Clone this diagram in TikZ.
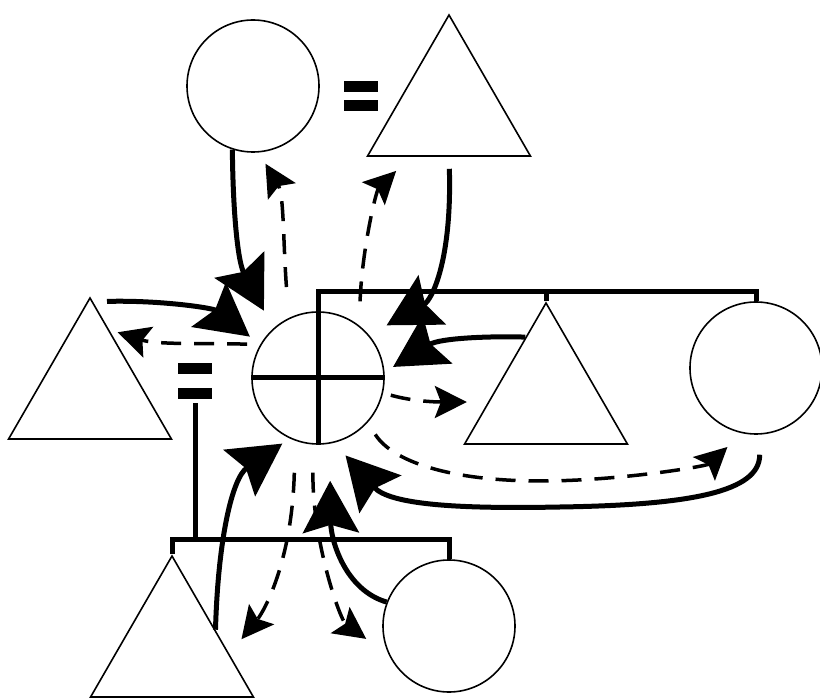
\documentclass[tikz,border=0pt]{standalone}
\usetikzlibrary{arrows.meta,shapes.geometric}
\tikzset{
  circ/.style={circle,draw,line width=1.6pt,minimum size=132pt,inner sep=0pt},
  tri/.style={regular polygon,regular polygon sides=3,draw,line width=1.6pt,
              minimum size=188pt,inner sep=0pt},
  eqsign/.style={rectangle,fill=white,minimum width=34pt,minimum height=#1,inner sep=0pt,
    path picture={
      \fill[black] (path picture bounding box.north west) rectangle ([yshift=-11pt]path picture bounding box.north east);
      \fill[black] ([yshift=11pt]path picture bounding box.south west) rectangle (path picture bounding box.south east);}},
  eqsign/.default=32pt,
  bus/.style={line width=5pt},
  arr/.style={-{Stealth[length=52pt,width=56pt,inset=8pt]},line width=5pt},
  darr/.style={-{Stealth[length=32pt,width=32pt,inset=6pt]},line width=3.5pt,
               dash pattern=on 20pt off 13pt},
}
\begin{document}
\begin{tikzpicture}[x=1pt,y=-1pt]
  \useasboundingbox[fill=white] (0,0) rectangle (820,700);

  % people
  \node[circ] (tc)  at (253,86)  {};
  \node[tri]  (tt)  at (449,109) {};
  \node[tri]  (lt)  at (90,392)  {};
  \node[circ] (ego) at (318,378) {};
  \node[tri]  (rt)  at (546,397) {};
  \node[circ] (rc)  at (756,368) {};
  \node[tri]  (bl)  at (172,650) {};
  \node[circ] (bc)  at (449,626) {};

  \node[eqsign=30pt] (eqT) at (361,96)  {};
  \node[eqsign=36pt] (eqL) at (195,381) {};

  % kin lines
  \coordinate (busL) at (318,292);
  \coordinate (busR) at (756,292);
  \coordinate (sibL) at (172,540);
  \coordinate (sibR) at (449,540);
  \draw[bus] (ego.west) -- (ego.east);
  \draw[bus] (ego.south) -- (busL) -- (busR) -- (rc.north);
  \draw[bus] (rt.corner 1) -- (rt.corner 1 |- busL);
  \draw[bus] (bl.corner 1) -- (sibL) -- (sibR) -- (bc.north);
  \draw[bus,shorten <=4pt] (eqL.south) -- (eqL.south |- sibL);

  % solid arrows in
  \draw[arr,shorten >=20pt] (tc.-108) .. controls (233,215) and (238,262) .. (ego.132);
  \draw[arr,shorten >=13pt] ([shift={(17pt,-5pt)}]lt.corner 1) .. controls (160,300) and (213,308) .. (ego.150);
  \draw[arr,shorten <=12pt,shorten >=20pt] (tt.south) .. controls (452,260) and (432,300) .. (ego.40);
  \draw[arr,shorten >=10pt] (rt.109) .. controls (490,336) and (440,338) .. (ego.5);
  \draw[arr,shorten <=20pt,shorten >=17pt] (rc.-87) .. controls (760,492) and (690,505) .. (560,507)
        .. controls (460,509) and (390,505) .. (ego.-76);
  \draw[arr,shorten >=9pt] (bl.25) .. controls (218,540) and (232,478) .. (ego.-115);
  \draw[arr,shorten >=37pt] (bc.159) .. controls (345,590) and (331,540) .. (ego.-80);

  % dashed arrows out
  \draw[darr,shorten <=31pt,shorten >=13pt] (ego.116) .. controls (283,240) and (284,195) .. (tc.-85);
  \draw[darr,shorten <=24pt,shorten >=20pt] (ego.52) .. controls (362,250) and (376,191) .. (tt.-129);
  \draw[darr,shorten <=13pt,shorten >=9pt] (ego.150) .. controls (210,343) and (157,345) .. (lt.73);
  \draw[darr,shorten <=8pt,shorten >=21pt] (ego.-13) .. controls (415,402) and (440,402) .. (rt.185);
  \draw[darr,shorten <=14pt,shorten >=20pt] (ego.-42) .. controls (395,465) and (460,481) .. (540,481)
        .. controls (620,481) and (707,466) .. (rc.-102);
  \draw[darr,shorten <=32pt,shorten >=19pt] (ego.-110) .. controls (292,560) and (265,610) .. (bl.-4);
  \draw[darr,shorten <=28pt,shorten >=28pt] (ego.-94) .. controls (312,540) and (340,620) .. (bc.-154);
\end{tikzpicture}
\end{document}
